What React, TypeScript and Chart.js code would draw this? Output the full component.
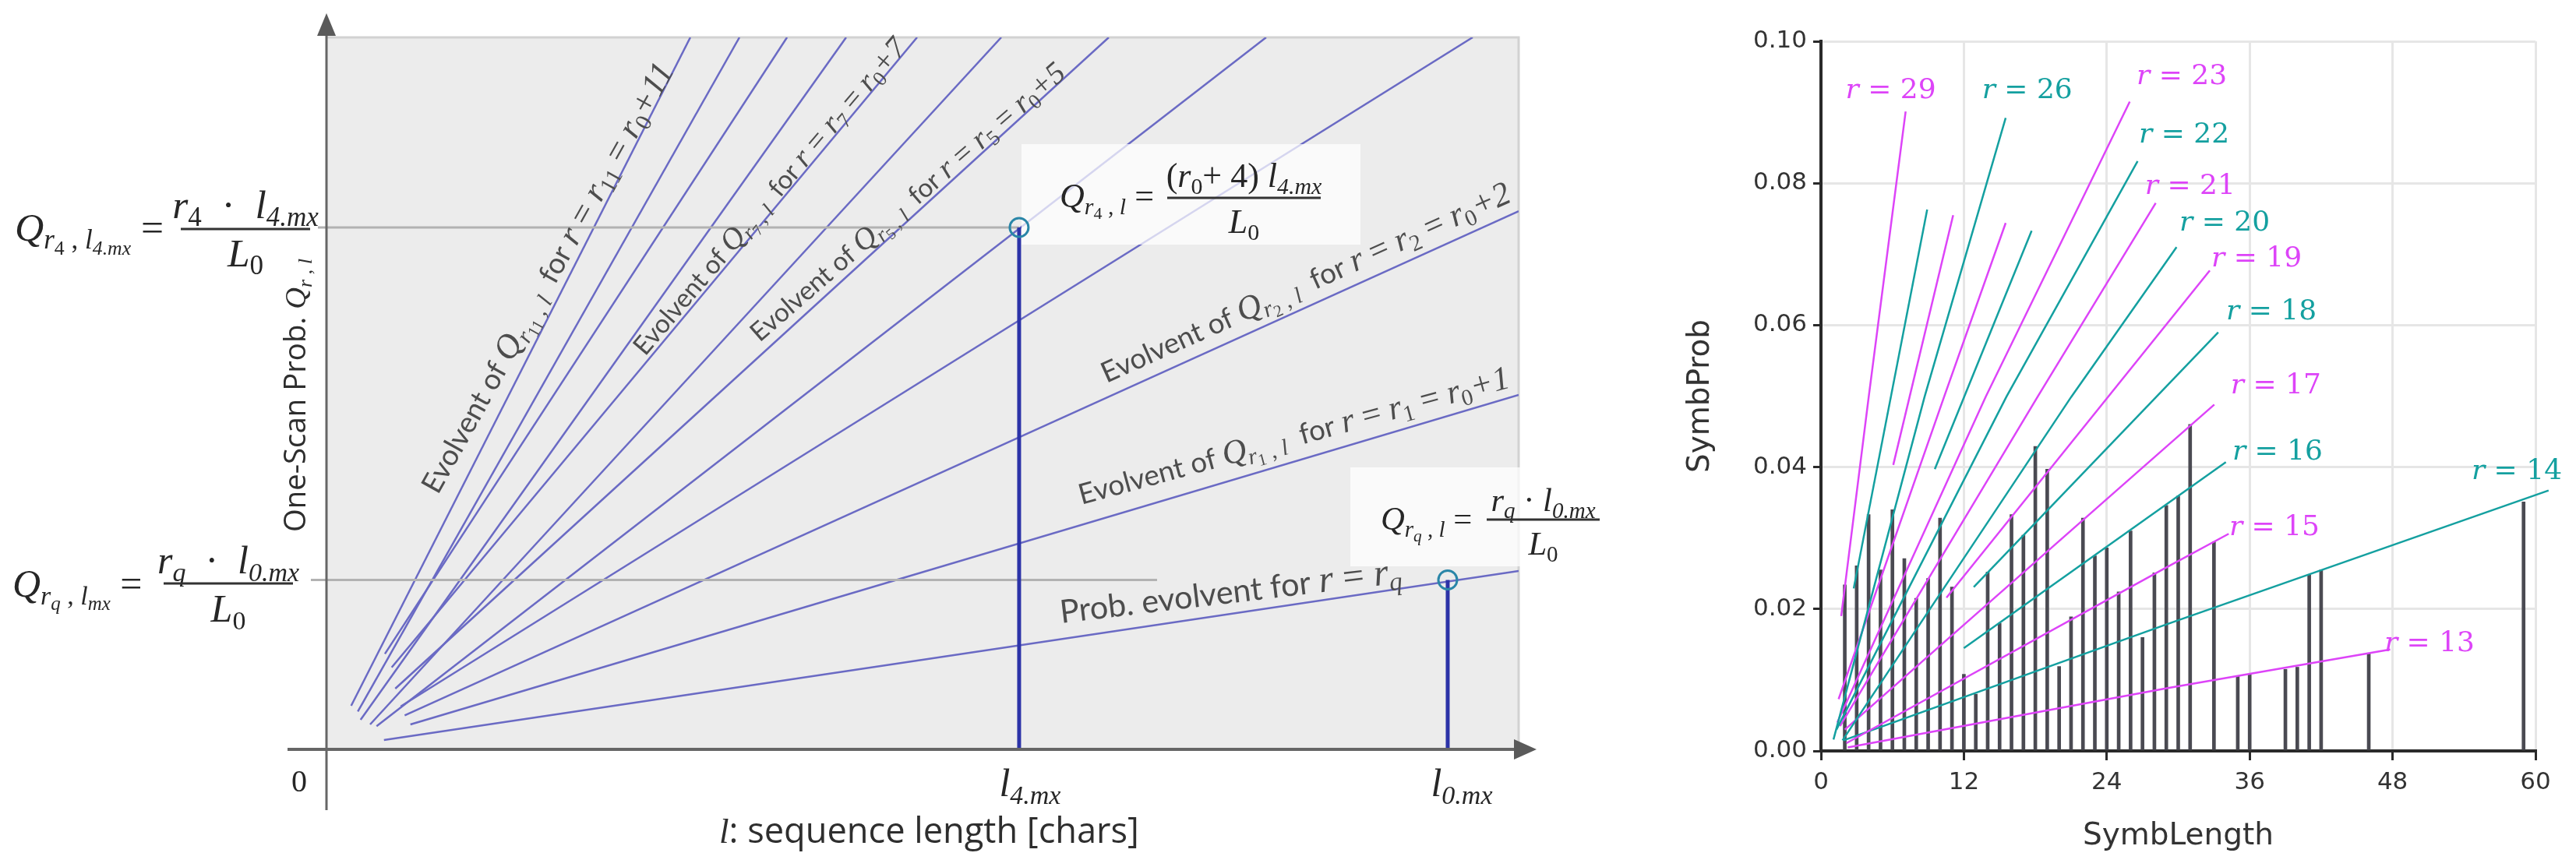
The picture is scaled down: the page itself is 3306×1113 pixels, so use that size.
import React, { useEffect, useRef } from 'react';
import { Chart, registerables } from 'chart.js';
Chart.register(...registerables);

const W = 3306;
const H = 1113;
const LEFT_W = 2110;
const RIGHT_W = W - LEFT_W;

// ---------------- Left schematic (data units 0..100 on both axes) ----------------
const evolventStartX = [2.07, 2.63, 4.9, 2.86, 5.47, 3.66, 5.77, 4.2, 6.23, 6.56, 7.04, 4.82];
const evolventStartY = [6.13, 5.33, 13.42, 4.16, 11.52, 3.5, 8.53, 3.25, 6.05, 4.78, 3.5, 1.31];
const evolventEndX = [30.52, 34.64, 38.63, 43.59, 49.54, 56.6, 65.62, 78.82, 96.14, 100, 100, 100];
const evolventEndY = [100, 100, 100, 100, 100, 100, 100, 100, 100, 75.6, 49.78, 25.05];
const stemX = [58.1, 94.05]; // l4.mx , l0.mx
const stemY = [73.3, 23.8];
const hLineFromX = [-0.72, -1.31];
const hLineToX = [58.1, 69.67];
const hLineY = [73.3, 23.8];

// ---------------- Right chart data ----------------
const symbLength = [2, 3, 4, 5, 6, 7, 8, 9, 10, 11, 12, 13, 14, 15, 16, 17, 18, 19, 20, 21, 22, 23, 24, 25, 26, 27, 28, 29, 30, 31, 33, 35, 36, 39, 40, 41, 42, 46, 59];
const symbProb = [0.0234, 0.0261, 0.0333, 0.0255, 0.034, 0.0271, 0.0215, 0.0243, 0.0328, 0.0231, 0.0108, 0.008, 0.0252, 0.018, 0.0333, 0.0304, 0.0429, 0.0397, 0.0119, 0.0189, 0.0328, 0.0275, 0.0286, 0.0224, 0.031, 0.016, 0.0251, 0.0346, 0.0359, 0.046, 0.0295, 0.0105, 0.0108, 0.0115, 0.0118, 0.0248, 0.0255, 0.0137, 0.0351];

const fitLineR = [29, 28, 27, 26, 25, 24, 23, 22, 21, 20, 19, 18, 17, 16, 15, 14, 13];
const fitLineX = [
  [1.7, 4.01, 7.11],
  [2.75, 8.92],
  [6.07, 11.1],
  [1.05, 8.7, 15.51],
  [1.48, 10.34, 15.51],
  [9.56, 17.69],
  [1.37, 13.83, 25.93],
  [1.3, 15.57, 26.59],
  [1.6, 18.19, 28.11],
  [1.81, 21.02, 29.86],
  [10.54, 32.65],
  [12.83, 33.36],
  [2.0, 28.95, 33.03],
  [12.0, 34.0],
  [2.14, 28.95, 34.24],
  [1.9, 28.95, 61.1],
  [2.25, 28.95, 47.8],
];
const fitLineY = [
  [0.019, 0.0499, 0.0901],
  [0.0229, 0.0763],
  [0.0403, 0.0755],
  [0.0016, 0.0499, 0.0892],
  [0.0073, 0.0499, 0.0744],
  [0.0397, 0.0733],
  [0.004, 0.0499, 0.0915],
  [0.003, 0.0499, 0.0831],
  [0.0035, 0.0499, 0.0772],
  [0.0015, 0.0499, 0.071],
  [0.0216, 0.0677],
  [0.0231, 0.059],
  [0.003, 0.0428, 0.0488],
  [0.0145, 0.0407],
  [0.0011, 0.0258, 0.0306],
  [0.0015, 0.0178, 0.0367],
  [0.0005, 0.0088, 0.0143],
];
const rLabelNum = [29, 26, 23, 22, 21, 20, 19, 18, 17, 16, 15, 14, 13];
const rLabelX = [5.86, 17.32, 30.3, 30.5, 31.0, 33.9, 36.58, 37.82, 38.2, 38.34, 38.08, 58.43, 51.1];
const rLabelY = [0.0934, 0.0934, 0.0954, 0.0872, 0.0799, 0.0747, 0.0697, 0.0622, 0.0518, 0.0425, 0.0318, 0.0397, 0.0155];

const MAG = '#dd44f8';
const TEAL = '#14a0a0';

// ---------------- rich text helpers ----------------
type Seg = { t: string; k?: 's' | 'mi' | 'mu'; l?: number };
const SANS = 'Lato, "Open Sans", "Noto Sans", sans-serif';
const OPEN = '"Open Sans", Lato, sans-serif';
const SERIF = '"Liberation Serif", "DejaVu Serif", serif';
const DJSERIF = '"DejaVu Serif", "Liberation Serif", serif';

let mathScale = 1;

function segSize(s: Seg, size: number) {
  const base = s.k === 'mi' || s.k === 'mu' ? size * mathScale : size;
  return s.l === 2 ? base * 0.5 : s.l === 1 ? base * 0.68 : base;
}
function segFont(s: Seg, size: number, serif: string, sans: string) {
  const fs = segSize(s, size);
  if (s.k === 'mi') return `italic ${fs}px ${serif}`;
  if (s.k === 'mu') return `${fs}px ${serif}`;
  return `${fs}px ${sans}`;
}
function segDy(s: Seg, size: number) {
  return s.l === 2 ? size * 0.34 : s.l === 1 ? size * 0.2 : 0;
}
function segsWidth(ctx: any, segs: Seg[], size: number, serif = SERIF, sans = SANS) {
  let w = 0;
  for (const s of segs) {
    ctx.font = segFont(s, size, serif, sans);
    w += ctx.measureText(s.t).width;
  }
  return w;
}
function drawSegs(ctx: any, segs: Seg[], x: number, y: number, size: number, serif = SERIF, sans = SANS) {
  let cx = x;
  ctx.textAlign = 'left';
  ctx.textBaseline = 'alphabetic';
  for (const s of segs) {
    ctx.font = segFont(s, size, serif, sans);
    ctx.fillText(s.t, cx, y + segDy(s, size));
    cx += ctx.measureText(s.t).width;
  }
}
function fitSize(ctx: any, segs: Seg[], w: number, serif = SERIF, sans = SANS) {
  return (100 * w) / segsWidth(ctx, segs, 100, serif, sans);
}
function drawAlong(ctx: any, segs: Seg[], x0: number, y0: number, x1: number, y1: number, color: string, sans = SANS) {
  mathScale = 1.18;
  const len = Math.hypot(x1 - x0, y1 - y0);
  const ang = Math.atan2(y1 - y0, x1 - x0);
  const size = fitSize(ctx, segs, len, SERIF, sans);
  ctx.save();
  ctx.translate(x0, y0);
  ctx.rotate(ang);
  ctx.fillStyle = color;
  drawSegs(ctx, segs, 0, 0, size, SERIF, sans);
  ctx.restore();
  mathScale = 1;
}
function drawFormula(ctx: any, left: Seg[], num: Seg[], den: Seg[], leftRight: number, leftW: number, baseY: number, barX0: number, barX1: number, barY: number, numY: number, denY: number) {
  const size = fitSize(ctx, left, leftW);
  ctx.fillStyle = '#262626';
  drawSegs(ctx, left, leftRight - leftW, baseY, size);
  const cx = (barX0 + barX1) / 2;
  const nw = segsWidth(ctx, num, size);
  drawSegs(ctx, num, cx - nw / 2, numY, size);
  const dw = segsWidth(ctx, den, size);
  drawSegs(ctx, den, cx - dw / 2, denY, size);
  ctx.strokeStyle = '#333';
  ctx.lineWidth = 3;
  ctx.beginPath();
  ctx.moveTo(barX0, barY);
  ctx.lineTo(barX1, barY);
  ctx.stroke();
}

const mi = (t: string, l?: number): Seg => ({ t, k: 'mi', l });
const mu = (t: string, l?: number): Seg => ({ t, k: 'mu', l });
const sa = (t: string): Seg => ({ t, k: 's' });

function evoLabel(sub: string): Seg[] {
  return [sa('Evolvent of '), mi('Q'), mi('r', 1), mu(sub, 2), mu(' , ', 1), mi('l', 1), sa('  for '), mi('r'), mu(' = '), mi('r'), mu(sub, 1), mu(' = '), mi('r'), mu('0', 1), mi('+' + sub)];
}

// ---------------- left chart ----------------
function leftConfig(): any {
  const datasets: any[] = [];
  evolventStartX.forEach((sx, i) => {
    datasets.push({
      data: [{ x: sx, y: evolventStartY[i] }, { x: evolventEndX[i], y: evolventEndY[i] }],
      showLine: true, borderColor: '#6a6ac4', borderWidth: 2.5, pointRadius: 0, order: 10,
    });
  });
  hLineY.forEach((y, i) => {
    datasets.push({
      data: [{ x: hLineFromX[i], y }, { x: hLineToX[i], y }],
      showLine: true, borderColor: '#b2b2b2', borderWidth: 3, pointRadius: 0, order: 8, clip: false,
    });
  });
  stemX.forEach((x, i) => {
    datasets.push({
      data: [{ x, y: 0 }, { x, y: stemY[i] }],
      showLine: true, borderColor: '#2c33a8', borderWidth: 5, pointRadius: 0, order: 3, isStem: true, clip: false,
    });
  });
  datasets.push({
    data: stemX.map((x, i) => ({ x, y: stemY[i] })),
    showLine: false, pointRadius: 12, pointBorderWidth: 3, pointBorderColor: '#2a86a8',
    pointBackgroundColor: 'rgba(0,0,0,0)', order: 1, clip: false,
  });

  let boxesDrawn = false;
  const plugin = {
    id: 'leftDeco',
    beforeDraw(chart: any) {
      boxesDrawn = false;
      const { ctx, chartArea: ca } = chart;
      ctx.save();
      ctx.fillStyle = '#ececec';
      ctx.fillRect(ca.left, ca.top, ca.right - ca.left, ca.bottom - ca.top);
      ctx.strokeStyle = '#d2d2d2';
      ctx.lineWidth = 3;
      ctx.beginPath();
      ctx.moveTo(ca.left, ca.top);
      ctx.lineTo(ca.right, ca.top);
      ctx.lineTo(ca.right, ca.bottom);
      ctx.stroke();
      ctx.restore();
    },
    beforeDatasetDraw(chart: any, args: any) {
      const ds = chart.data.datasets[args.index];
      if (!ds.isStem || boxesDrawn) return;
      boxesDrawn = true;
      const ctx = chart.ctx;
      ctx.save();
      ctx.fillStyle = 'rgba(255,255,255,0.72)';
      ctx.fillRect(1311, 185, 435, 129);
      ctx.fillRect(1733, 600, 360, 127);
      ctx.restore();
    },
    afterDraw(chart: any) {
      const { ctx, chartArea: ca } = chart;
      ctx.save();
      // axes
      ctx.strokeStyle = '#666';
      ctx.lineWidth = 3;
      ctx.beginPath();
      ctx.moveTo(ca.left, 1040);
      ctx.lineTo(ca.left, 40);
      ctx.stroke();
      ctx.lineWidth = 4;
      ctx.beginPath();
      ctx.moveTo(369, ca.bottom);
      ctx.lineTo(1948, ca.bottom);
      ctx.stroke();
      ctx.fillStyle = '#5a5a5a';
      ctx.beginPath();
      ctx.moveTo(ca.left, 17);
      ctx.lineTo(ca.left - 12, 46);
      ctx.lineTo(ca.left + 12, 46);
      ctx.closePath();
      ctx.fill();
      ctx.beginPath();
      ctx.moveTo(1972, ca.bottom);
      ctx.lineTo(1943, ca.bottom - 13);
      ctx.lineTo(1943, ca.bottom + 13);
      ctx.closePath();
      ctx.fill();

      // evolvent labels
      const g = '#4d4d4d';
      drawAlong(ctx, evoLabel('11'), 562, 636, 866, 90, g);
      drawAlong(ctx, evoLabel('7'), 828, 458, 1165, 62, g);
      drawAlong(ctx, evoLabel('5'), 975, 440, 1370, 97, g);
      drawAlong(ctx, evoLabel('2'), 1420, 492, 1942, 258, g);
      drawAlong(ctx, evoLabel('1'), 1388, 648, 1940, 497, g);
      drawAlong(ctx, [sa('Prob. evolvent for '), mi('r'), mu(' = '), mi('r'), mi('q', 1)], 1362, 800, 1800, 748, g);

      // formulas
      drawFormula(ctx,
        [mi('Q'), mi('r', 1), mu('4', 2), mu(' , ', 1), mi('l', 1), mi('4.mx', 2), mu(' = ')],
        [mi('r'), mu('4', 1), mu('  ·  '), mi('l'), mi('4.mx', 1)],
        [mi('L'), mu('0', 1)],
        223, 204, 309, 232, 398, 294, 280, 342);
      drawFormula(ctx,
        [mi('Q'), mi('r', 1), mi('q', 2), mu(' , ', 1), mi('l', 1), mi('mx', 2), mu(' = ')],
        [mi('r'), mi('q', 1), mu('  ·  '), mi('l'), mi('0.mx', 1)],
        [mi('L'), mu('0', 1)],
        195, 179, 766, 210, 376, 749, 736, 798);
      drawFormula(ctx,
        [mi('Q'), mi('r', 1), mu('4', 2), mu(' , ', 1), mi('l', 1), mu(' = ')],
        [mu('('), mi('r'), mu('0', 1), mu('+ 4) '), mi('l'), mi('4.mx', 1)],
        [mi('L'), mu('0', 1)],
        1492, 132, 266, 1498, 1695, 254, 240, 299);
      drawFormula(ctx,
        [mi('Q'), mi('r', 1), mi('q', 2), mu(' , ', 1), mi('l', 1), mu(' = ')],
        [mi('r'), mi('q', 1), mu(' · '), mi('l'), mi('0.mx', 1)],
        [mi('L'), mu('0', 1)],
        1900, 128, 680, 1908, 2053, 667, 656, 712);

      // tick-like labels
      ctx.fillStyle = '#262626';
      const zs = [mu('0')];
      const zw = segsWidth(ctx, zs, 40);
      drawSegs(ctx, zs, 384 - zw / 2, 1016, 40);
      const l4 = [mi('l'), mi('4.mx', 1)];
      const l4w = segsWidth(ctx, l4, 50);
      drawSegs(ctx, l4, chart.scales.x.getPixelForValue(stemX[0]) + 14 - l4w / 2, 1022, 50);
      const l0 = [mi('l'), mi('0.mx', 1)];
      const l0w = segsWidth(ctx, l0, 50);
      drawSegs(ctx, l0, chart.scales.x.getPixelForValue(stemX[1]) + 18 - l0w / 2, 1022, 50);

      // axis titles
      ctx.fillStyle = '#2e2e2e';
      const xt = [mi('l'), sa(': sequence length [chars]')];
      const xs = fitSize(ctx, xt, 539, SERIF, OPEN);
      drawSegs(ctx, xt, 923, 1082, xs, SERIF, OPEN);
      ctx.save();
      ctx.translate(392, 683);
      ctx.rotate(-Math.PI / 2);
      const yt = [sa('One-Scan Prob. '), mi('Q'), mi('r', 1), mu(' , ', 1), mi('l', 1)];
      const ysz = fitSize(ctx, yt, 351, SERIF, OPEN);
      drawSegs(ctx, yt, 0, 0, ysz, SERIF, OPEN);
      ctx.restore();
      ctx.restore();
    },
  };

  return {
    type: 'scatter',
    data: { datasets },
    options: {
      animation: false,
      responsive: false,
      devicePixelRatio: 1,
      layout: { padding: { left: 419, top: 48, right: LEFT_W - 1949, bottom: H - 962 } },
      plugins: { legend: { display: false }, tooltip: { enabled: false } },
      scales: {
        x: { type: 'linear', min: 0, max: 100, display: false },
        y: { type: 'linear', min: 0, max: 100, display: false },
      },
    },
    plugins: [plugin],
  };
}

// ---------------- right chart ----------------
function rightConfig(): any {
  const lineSets = fitLineR.map((r, i) => ({
    type: 'line',
    data: fitLineX[i].map((x, j) => ({ x, y: fitLineY[i][j] })),
    borderColor: r % 2 ? MAG : TEAL,
    borderWidth: 2.5,
    pointRadius: 0,
    fill: false,
    tension: 0,
    clip: false,
    order: 1,
  }));
  const bars = {
    type: 'bar',
    data: symbLength.map((x, i) => ({ x, y: symbProb[i] })),
    backgroundColor: '#4a4a52',
    barThickness: 4,
    order: 2,
  };
  const labelPlugin = {
    id: 'rLabels',
    afterDatasetsDraw(chart: any) {
      const { ctx } = chart;
      const xs = chart.scales.x;
      const ys = chart.scales.y;
      ctx.save();
      rLabelNum.forEach((r, i) => {
        const px = xs.getPixelForValue(rLabelX[i]);
        const py = ys.getPixelForValue(rLabelY[i]);
        const segs: Seg[] = [mi('r'), mu(' = ' + r)];
        const size = 36;
        const w = segsWidth(ctx, segs, size, DJSERIF);
        ctx.fillStyle = r % 2 ? MAG : TEAL;
        drawSegs(ctx, segs, px - w / 2, py + 13, size, DJSERIF);
      });
      ctx.restore();
    },
  };
  const tickFont = { family: '"DejaVu Sans", "Liberation Sans", sans-serif', size: 31 };
  const titleFont = { family: '"DejaVu Sans", "Liberation Sans", sans-serif', size: 39 };
  return {
    type: 'bar',
    data: { datasets: [...lineSets, bars] },
    options: {
      animation: false,
      responsive: false,
      devicePixelRatio: 1,
      layout: { padding: { left: 45, top: 53, right: 52, bottom: 12 } },
      plugins: { legend: { display: false }, tooltip: { enabled: false } },
      scales: {
        x: {
          type: 'linear', min: 0, max: 60, offset: false,
          ticks: { stepSize: 12, font: tickFont, color: '#333', padding: 10 },
          grid: { offset: false, color: '#e6e6e6', lineWidth: 3, tickLength: 12, tickColor: '#2a2a2a', tickWidth: 3 },
          border: { display: true, color: '#2a2a2a', width: 4 },
          title: { display: true, text: 'SymbLength', font: titleFont, color: '#333', padding: { top: 4, bottom: 4 } },
          afterFit(s: any) { s.height = 137; },
        },
        y: {
          type: 'linear', min: 0, max: 0.1,
          ticks: { stepSize: 0.02, font: tickFont, color: '#333', padding: 8, callback: (v: any) => Number(v).toFixed(2) },
          grid: { color: '#e6e6e6', lineWidth: 3, tickLength: 10, tickColor: '#2a2a2a', tickWidth: 3 },
          border: { display: true, color: '#2a2a2a', width: 4 },
          title: { display: true, text: 'SymbProb', font: titleFont, color: '#333', padding: { top: 4, bottom: 4 } },
          afterFit(s: any) { s.width = 182; },
        },
      },
    },
    plugins: [labelPlugin],
  };
}

export default function App() {
  const leftRef = useRef<HTMLCanvasElement>(null);
  const rightRef = useRef<HTMLCanvasElement>(null);
  useEffect(() => {
    document.body.style.margin = '0';
    const c1 = new Chart(leftRef.current as HTMLCanvasElement, leftConfig());
    const c2 = new Chart(rightRef.current as HTMLCanvasElement, rightConfig());
    return () => {
      c1.destroy();
      c2.destroy();
    };
  }, []);
  return (
    <div style={{ position: 'absolute', left: 0, top: 0, width: W, height: H, background: '#fff', overflow: 'hidden' }}>
      <canvas ref={leftRef} width={LEFT_W} height={H} style={{ position: 'absolute', left: 0, top: 0, width: LEFT_W, height: H }} />
      <canvas ref={rightRef} width={RIGHT_W} height={H} style={{ position: 'absolute', left: LEFT_W, top: 0, width: RIGHT_W, height: H }} />
    </div>
  );
}
